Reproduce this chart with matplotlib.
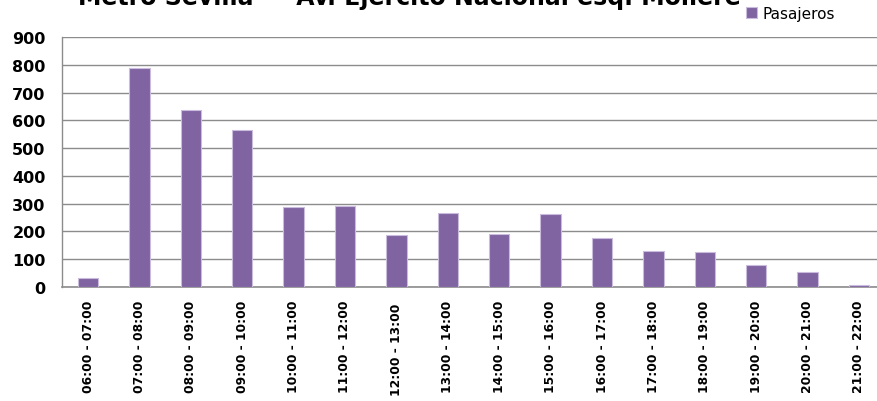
import matplotlib
matplotlib.use("Agg")
import matplotlib.pyplot as plt
import matplotlib.transforms as mtransforms

# Hourly passenger counts
franjas = ["06:00 - 07:00", "07:00 - 08:00", "08:00 - 09:00", "09:00 - 10:00",
           "10:00 - 11:00", "11:00 - 12:00", "12:00 - 13:00", "13:00 - 14:00",
           "14:00 - 15:00", "15:00 - 16:00", "16:00 - 17:00", "17:00 - 18:00",
           "18:00 - 19:00", "19:00 - 20:00", "20:00 - 21:00", "21:00 - 22:00"]
pasajeros = [31, 787, 636, 565, 289, 292, 187, 268, 192, 263, 177, 131, 126, 80, 55, 7]
y_ticks = [0, 100, 200, 300, 400, 500, 600, 700, 800, 900]

titulo = "Metro Sevilla  -  Av. Ejército Nacional esq. Molière"
serie = "Pasajeros"

BAR = "#8064A2"
EDGE = "#C9BCDD"
GRID = "#8C8C8C"

fig = plt.figure(figsize=(8.77, 4.02), dpi=100)
ax = fig.add_axes([62.3 / 877, 1 - 288 / 402, 822.4 / 877, 250 / 402])

x = list(range(len(franjas)))
bars = ax.bar(x, pasajeros, width=0.4, color=BAR, edgecolor=EDGE,
              linewidth=0.8, label=serie, zorder=3)

ax.set_xlim(-0.5, len(franjas) - 0.5)
ax.set_ylim(0, 900)
ax.set_yticks(y_ticks)
ax.set_yticklabels([str(v) for v in y_ticks], fontsize=11.5,
                   fontweight="bold", color="black")
ax.tick_params(axis="y", length=0, pad=12)

ax.set_xticks(x)
ax.set_xticklabels(franjas, rotation=90, fontsize=8.8, fontweight="bold",
                   color="black", va="top", ha="center")
ax.tick_params(axis="x", length=0, pad=9)
# the 12:00 label sits slightly lower
lbl = ax.get_xticklabels()[6]
lbl.set_transform(lbl.get_transform() +
                  mtransforms.ScaledTranslation(0, -3 / 100, fig.dpi_scale_trans))

ax.yaxis.grid(True, color=GRID, linewidth=1.0, zorder=0)
ax.set_axisbelow(True)
for side in ("top", "right"):
    ax.spines[side].set_visible(False)
ax.spines["left"].set_color(GRID)
ax.spines["left"].set_linewidth(1.0)
ax.spines["bottom"].set_color(GRID)
ax.spines["bottom"].set_linewidth(1.2)

fig.text(409 / 877, 1 - 5 / 402, titulo, ha="center", va="baseline",
         fontsize=17, fontweight="bold", color="black")

fig.legend(handles=[bars], labels=[serie], loc="center left",
           bbox_to_anchor=(746 / 877, 1 - 14 / 402), frameon=False,
           fontsize=11, handlelength=0.7, handleheight=0.7,
           handletextpad=0.4, borderpad=0, borderaxespad=0)

fig.savefig("out.png", dpi=100)
